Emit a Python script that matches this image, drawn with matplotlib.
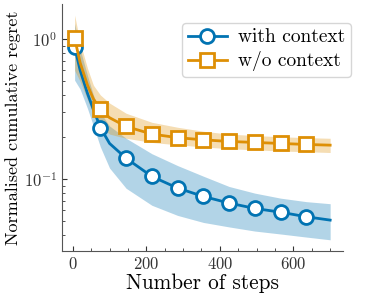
import matplotlib
matplotlib.use("Agg")
import matplotlib.pyplot as plt
from matplotlib.ticker import AutoMinorLocator

# Computer Modern look
plt.rcParams['font.family'] = 'serif'
plt.rcParams['font.serif'] = ['cmr10', 'DejaVu Serif']
plt.rcParams['mathtext.fontset'] = 'cm'
plt.rcParams['axes.formatter.use_mathtext'] = True

# Data
steps = [5, 20, 40, 56, 75, 100, 145, 215, 285, 355, 425, 495, 565, 635, 700]
marker_idx = [0, 4, 6, 7, 8, 9, 10, 11, 12, 13]

ctx_mean = [0.885, 0.6, 0.41, 0.315, 0.234, 0.18, 0.141, 0.1045, 0.0863, 0.0752, 0.0674, 0.0617, 0.058, 0.0538, 0.0509]
ctx_low = [0.51, 0.44, 0.32, 0.24, 0.17, 0.12, 0.086, 0.065, 0.055, 0.049, 0.0455, 0.0425, 0.0405, 0.0385, 0.0368]
ctx_high = [1.3, 0.85, 0.55, 0.4, 0.3, 0.24, 0.196, 0.152, 0.125, 0.105, 0.0886, 0.0794, 0.0731, 0.069, 0.0667]

noctx_mean = [1.02, 0.68, 0.47, 0.375, 0.316, 0.275, 0.238, 0.21, 0.198, 0.191, 0.186, 0.183, 0.18, 0.177, 0.175]
noctx_low = [0.6, 0.5, 0.37, 0.29, 0.24, 0.21, 0.196, 0.183, 0.176, 0.17, 0.165, 0.162, 0.159, 0.157, 0.155]
noctx_high = [1.49, 0.95, 0.62, 0.47, 0.4, 0.35, 0.296, 0.255, 0.235, 0.22, 0.21, 0.205, 0.201, 0.198, 0.196]

blue = '#0173b2'
orange = '#de8f05'

fig = plt.figure(figsize=(3.66, 3.01), dpi=100)
ax = fig.add_axes([0.169, 0.166, 0.768, 0.821])

ax.fill_between(steps, ctx_low, ctx_high, color=blue, alpha=0.3, lw=0)
ax.fill_between(steps, noctx_low, noctx_high, color=orange, alpha=0.3, lw=0)

ax.plot(steps, ctx_mean, color=blue, lw=2, marker='o', markersize=10,
        markerfacecolor='white', markeredgewidth=2, markevery=marker_idx,
        label='with context')
ax.plot(steps, noctx_mean, color=orange, lw=2, marker='s', markersize=10,
        markerfacecolor='white', markeredgewidth=2, markevery=marker_idx,
        label='w/o context')

ax.set_yscale('log')
ax.set_xticks([0, 200, 400, 600])
ax.xaxis.set_minor_locator(AutoMinorLocator(4))
ax.tick_params(which='both', direction='in', labelsize=12, colors='#333333')
for side in ['left', 'bottom']:
    ax.spines[side].set_color('#555555')
ax.spines['top'].set_visible(False)
ax.spines['right'].set_visible(False)

ax.set_xlabel('Number of steps', fontsize=15.3, labelpad=1)
ax.set_ylabel('Normalised cumulative regret', fontsize=13, labelpad=2)

ax.legend(loc='upper right', bbox_to_anchor=(361 / 366, 288 / 301),
          bbox_transform=fig.transFigure, fontsize=14, handlelength=2.0,
          borderpad=0.3, labelspacing=0.25, handletextpad=0.6, fancybox=True)

fig.savefig('out.png', dpi=100)
